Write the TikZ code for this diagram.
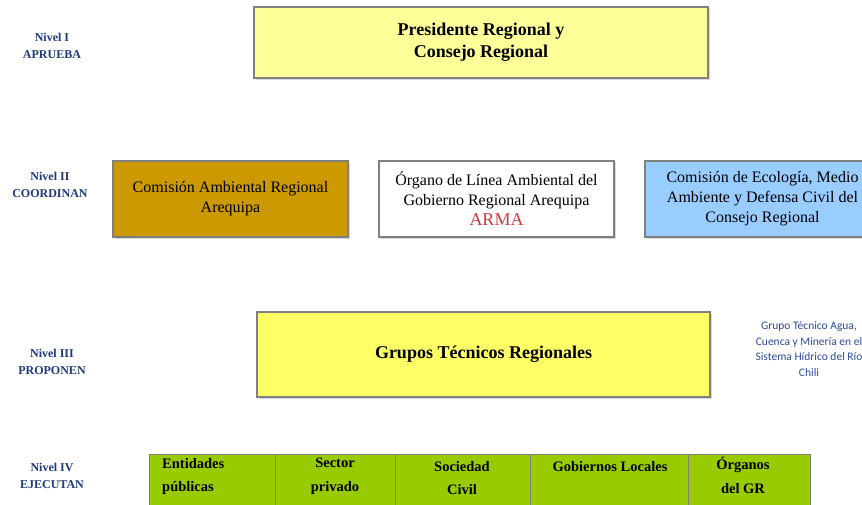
\documentclass[tikz,border=0pt]{standalone}
\usepackage{fontspec}
\setmainfont{Liberation Serif}
\newfontfamily\sidefont{Carlito}
\usetikzlibrary{shadows}
\definecolor{navy}{HTML}{1F3A80}
\definecolor{sideblue}{HTML}{2F4C9C}
\definecolor{paleyellow}{HTML}{FFFF99}
\definecolor{brightyellow}{HTML}{FFFF66}
\definecolor{gold}{HTML}{CC9900}
\definecolor{skyblue}{HTML}{99CCFF}
\definecolor{leafgreen}{HTML}{99CC00}
\definecolor{armared}{HTML}{D03A3A}
\tikzset{
  box/.style={draw=black!50, line width=1.2pt, rectangle, align=center, inner sep=0pt,
    drop shadow={opacity=0.3, shadow xshift=1.5pt, shadow yshift=-1.5pt}},
  lvl/.style={align=center, text=navy, font=\bfseries\fontsize{12}{16.5}\selectfont},
  lvtwo/.style={font=\fontsize{16}{20}\selectfont},
  cell/.style={draw=black!50, line width=1.2pt, fill=leafgreen, rectangle, inner sep=0pt, anchor=north west},
  celltext/.style={align=center, font=\bfseries\fontsize{14.5}{23.5}\selectfont, inner sep=0pt}
}
\begin{document}
\begin{tikzpicture}[x=1pt,y=-1pt]
\useasboundingbox (0,0) rectangle (862,504);
\clip (0,0) rectangle (862,504);
\fill[white] (0,0) rectangle (862,504);

% level labels
\node[lvl] (n1) at (52,46) {Nivel I\\APRUEBA};
\node[lvl] (n2) at (50,185) {Nivel II\\COORDINAN};
\node[lvl] (n3) at (52,362) {Nivel III\\PROPONEN};
\node[lvl] (n4) at (52,476) {Nivel IV\\EJECUTAN};

% level I
\node[box, fill=paleyellow, minimum width=454pt, minimum height=71pt,
  font=\bfseries\fontsize{18}{22}\selectfont] (pres) at (481,42.5)
  {Presidente Regional y\\Consejo Regional};

% level II
\node[box, fill=gold, minimum width=235pt, minimum height=76pt, lvtwo] (car) at (230.5,199)
  {Comisión Ambiental Regional\\Arequipa};
\node[box, fill=white, minimum width=235pt, minimum height=76pt, lvtwo] (arma) at (496.5,199)
  {Órgano de Línea Ambiental del\\Gobierno Regional Arequipa\\{\color{armared}\fontsize{18}{20}\selectfont ARMA}};
\node[box, fill=skyblue, minimum width=235pt, minimum height=76pt, lvtwo] (ecol) at (762.5,199)
  {Comisión de Ecología, Medio\\Ambiente y Defensa Civil del\\Consejo Regional};

% level III
\node[box, fill=brightyellow, minimum width=453pt, minimum height=85pt,
  font=\bfseries\fontsize{18}{22}\selectfont] (gtr) at (483.5,354.5)
  {Grupos Técnicos Regionales};
\node[align=center, text=sideblue, font=\sidefont\fontsize{11.5}{15.5}\selectfont] (side) at (809,349)
  {Grupo Técnico  Agua,\\Cuenca y Minería en el\\Sistema Hídrico del Río\\Chili};

% level IV
\node[cell, minimum width=126pt, minimum height=70pt] (c1) at (149,454) {};
\node[cell, minimum width=120pt, minimum height=70pt] (c2) at (275,454) {};
\node[cell, minimum width=135pt, minimum height=70pt] (c3) at (395,454) {};
\node[cell, minimum width=158pt, minimum height=70pt] (c4) at (530,454) {};
\node[cell, minimum width=122pt, minimum height=70pt] (c5) at (688,454) {};

\node[celltext, align=left, anchor=north west] (t1) at (162,458) {Entidades\\públicas};
\node[celltext, anchor=north] (t2) at (335,458) {Sector\\privado};
\node[celltext, anchor=north] (t3) at (462,461) {Sociedad\\Civil};
\node[celltext, anchor=north] (t4) at (610,461) {Gobiernos Locales};
\node[celltext, anchor=north] (t5) at (743,457) {Órganos\\del GR};
\end{tikzpicture}
\end{document}
